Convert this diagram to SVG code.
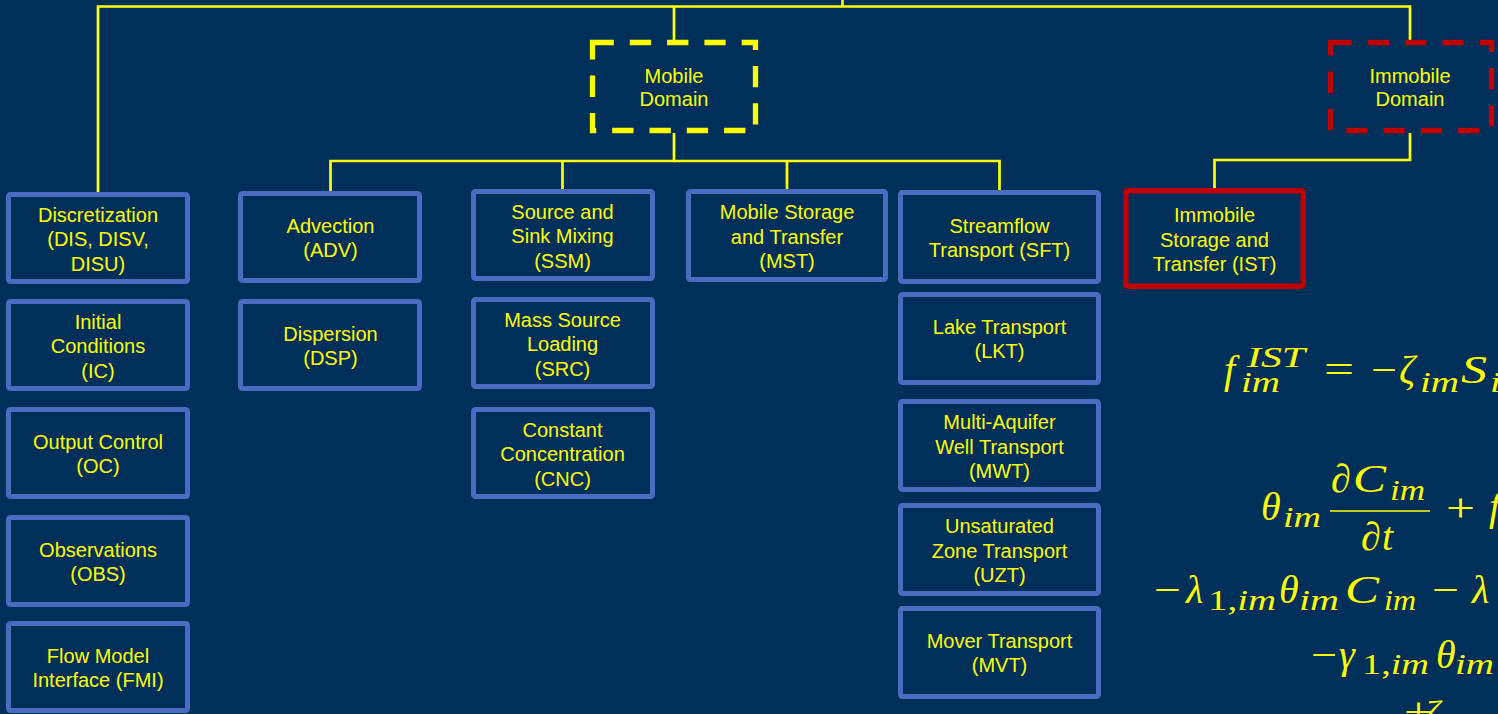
<svg xmlns="http://www.w3.org/2000/svg" width="1498" height="714" viewBox="0 0 1498 714">
  <style>
    .box { fill: none; stroke: #4A6CC0; stroke-width: 5; }
    .ist { fill: none; stroke: #C00000; stroke-width: 5.5; }
    .dom { fill: none; stroke-width: 5.3; stroke-dasharray: 21.3 16; }
    .lbl { font-family: "Liberation Sans", Arial, sans-serif; font-size: 20px; fill: #FFFF00; text-anchor: middle; }
    .wire { fill: none; stroke: #FFFF00; stroke-width: 2.7; }
    .m { font-family: "Liberation Serif", "Times New Roman", serif; font-style: italic; font-size: 40px; fill: #FFFF00; }
    .s { font-family: "Liberation Serif", "Times New Roman", serif; font-style: italic; font-size: 30px; fill: #FFFF00; }
    .up { font-style: normal; }
  </style>

  <rect x="0" y="0" width="1498" height="714" fill="#00305A"/>

  <!-- tree connectors -->
  <g id="connectors">
    <path class="wire" d="M842.5,0 V6.5"/>
    <path class="wire" d="M98,193 V6.5 H1410 V40"/>
    <path class="wire" d="M674,6.5 V40"/>
    <path class="wire" d="M674,133 V161 H330.5 V191"/>
    <path class="wire" d="M562.5,161 V189"/>
    <path class="wire" d="M674,161 H999.5 V190"/>
    <path class="wire" d="M787,161 V189"/>
    <path class="wire" d="M1410,133 V160 H1214.5 V188"/>
  </g>

  <!-- domains -->
  <g id="mobile-domain">
    <rect class="dom" x="592.5" y="42.5" width="163" height="88" stroke="#FFFF00"/>
    <text class="lbl" x="674" y="83">Mobile</text>
    <text class="lbl" x="674" y="106">Domain</text>
  </g>
  <g id="immobile-domain">
    <rect class="dom" x="1330.5" y="42.5" width="161" height="88" stroke="#C00000"/>
    <text class="lbl" x="1410" y="83">Immobile</text>
    <text class="lbl" x="1410" y="106">Domain</text>
  </g>

  <!-- column 1 -->
  <g id="dis">
    <rect class="box" x="8.5" y="194.5" width="179" height="87" rx="2"/>
    <text class="lbl" x="98" y="221.5">Discretization</text>
    <text class="lbl" x="98" y="246">(DIS, DISV,</text>
    <text class="lbl" x="98" y="270.5">DISU)</text>
  </g>
  <g id="ic">
    <rect class="box" x="8.5" y="301.5" width="179" height="87" rx="2"/>
    <text class="lbl" x="98" y="328.5">Initial</text>
    <text class="lbl" x="98" y="353">Conditions</text>
    <text class="lbl" x="98" y="377.5">(IC)</text>
  </g>
  <g id="oc">
    <rect class="box" x="8.5" y="409.5" width="179" height="87" rx="2"/>
    <text class="lbl" x="98" y="448.5">Output Control</text>
    <text class="lbl" x="98" y="472.5">(OC)</text>
  </g>
  <g id="obs">
    <rect class="box" x="8.5" y="517.5" width="179" height="87" rx="2"/>
    <text class="lbl" x="98" y="556.5">Observations</text>
    <text class="lbl" x="98" y="580.5">(OBS)</text>
  </g>
  <g id="fmi">
    <rect class="box" x="8.5" y="623.5" width="179" height="87" rx="2"/>
    <text class="lbl" x="98" y="662.5">Flow Model</text>
    <text class="lbl" x="98" y="686.5">Interface (FMI)</text>
  </g>

  <!-- column 2 -->
  <g id="adv">
    <rect class="box" x="240.5" y="193.5" width="179" height="87" rx="2"/>
    <text class="lbl" x="330.5" y="232.5">Advection</text>
    <text class="lbl" x="330.5" y="256.5">(ADV)</text>
  </g>
  <g id="dsp">
    <rect class="box" x="240.5" y="301.5" width="179" height="87" rx="2"/>
    <text class="lbl" x="330.5" y="340.5">Dispersion</text>
    <text class="lbl" x="330.5" y="364.5">(DSP)</text>
  </g>

  <!-- column 3 -->
  <g id="ssm">
    <rect class="box" x="473.5" y="191.5" width="179" height="87" rx="2"/>
    <text class="lbl" x="562.5" y="218.5">Source and</text>
    <text class="lbl" x="562.5" y="243">Sink Mixing</text>
    <text class="lbl" x="562.5" y="267.5">(SSM)</text>
  </g>
  <g id="src">
    <rect class="box" x="473.5" y="299.5" width="179" height="87" rx="2"/>
    <text class="lbl" x="562.5" y="326.5">Mass Source</text>
    <text class="lbl" x="562.5" y="351">Loading</text>
    <text class="lbl" x="562.5" y="375.5">(SRC)</text>
  </g>
  <g id="cnc">
    <rect class="box" x="473.5" y="409.5" width="179" height="87" rx="2"/>
    <text class="lbl" x="562.5" y="436.5">Constant</text>
    <text class="lbl" x="562.5" y="461">Concentration</text>
    <text class="lbl" x="562.5" y="485.5">(CNC)</text>
  </g>

  <!-- column 4 -->
  <g id="mst">
    <rect class="box" x="688.5" y="191.5" width="197" height="88" rx="2"/>
    <text class="lbl" x="787" y="219">Mobile Storage</text>
    <text class="lbl" x="787" y="243.5">and Transfer</text>
    <text class="lbl" x="787" y="268">(MST)</text>
  </g>

  <!-- column 5: advanced packages -->
  <g id="sft">
    <rect class="box" x="900.5" y="192.5" width="198" height="89" rx="2"/>
    <text class="lbl" x="999.5" y="232.5">Streamflow</text>
    <text class="lbl" x="999.5" y="256.5">Transport (SFT)</text>
  </g>
  <g id="lkt">
    <rect class="box" x="900.5" y="294.5" width="198" height="88" rx="2"/>
    <text class="lbl" x="999.5" y="334">Lake Transport</text>
    <text class="lbl" x="999.5" y="358">(LKT)</text>
  </g>
  <g id="mwt">
    <rect class="box" x="900.5" y="401.5" width="198" height="88" rx="2"/>
    <text class="lbl" x="999.5" y="429">Multi-Aquifer</text>
    <text class="lbl" x="999.5" y="453.5">Well Transport</text>
    <text class="lbl" x="999.5" y="478">(MWT)</text>
  </g>
  <g id="uzt">
    <rect class="box" x="900.5" y="505.5" width="198" height="88" rx="2"/>
    <text class="lbl" x="999.5" y="533">Unsaturated</text>
    <text class="lbl" x="999.5" y="557.5">Zone Transport</text>
    <text class="lbl" x="999.5" y="582">(UZT)</text>
  </g>
  <g id="mvt">
    <rect class="box" x="900.5" y="608.5" width="198" height="88" rx="2"/>
    <text class="lbl" x="999.5" y="648">Mover Transport</text>
    <text class="lbl" x="999.5" y="672">(MVT)</text>
  </g>

  <!-- immobile storage -->
  <g id="ist">
    <rect class="ist" x="1125.75" y="190.75" width="177.5" height="95.5" rx="2"/>
    <text class="lbl" x="1214.5" y="222">Immobile</text>
    <text class="lbl" x="1214.5" y="246.5">Storage and</text>
    <text class="lbl" x="1214.5" y="271">Transfer (IST)</text>
  </g>

  <!-- IST equations -->
  <g id="equations">
    <!-- f_im^IST = -zeta_im S_im ... -->
    <text class="m" x="1224" y="383">f</text>
    <text class="s" x="1247" y="367" textLength="58" lengthAdjust="spacingAndGlyphs">IST</text>
    <text class="s" x="1241" y="392" textLength="39" lengthAdjust="spacingAndGlyphs">im</text>
    <text class="m up" x="1324" y="383" textLength="30" lengthAdjust="spacingAndGlyphs">=</text>
    <text class="m up" x="1371" y="383" textLength="26" lengthAdjust="spacingAndGlyphs">−</text>
    <text class="m" x="1399" y="383">ζ</text>
    <text class="s" x="1420" y="392" textLength="39" lengthAdjust="spacingAndGlyphs">im</text>
    <text class="m" x="1461" y="383" textLength="26" lengthAdjust="spacingAndGlyphs">S</text>
    <text class="s" x="1490" y="392" textLength="39" lengthAdjust="spacingAndGlyphs">im</text>

    <!-- theta_im dC_im/dt + f ... -->
    <text class="m" x="1261" y="520">θ</text>
    <text class="s" x="1283" y="527" textLength="38" lengthAdjust="spacingAndGlyphs">im</text>
    <text class="m" x="1331" y="492">∂</text>
    <text class="m" x="1353" y="492" textLength="33" lengthAdjust="spacingAndGlyphs">C</text>
    <text class="s" x="1390" y="500" textLength="35" lengthAdjust="spacingAndGlyphs">im</text>
    <line x1="1330" y1="511" x2="1430" y2="511" stroke="#FFFF00" stroke-width="1.6"/>
    <text class="m" x="1361" y="550">∂</text>
    <text class="m" x="1382" y="550">t</text>
    <text class="m up" x="1446" y="521" textLength="29" lengthAdjust="spacingAndGlyphs">+</text>
    <text class="m" x="1489" y="520">f</text>

    <!-- -lambda_1,im theta_im C_im - lambda ... -->
    <text class="m up" x="1154" y="603" textLength="27" lengthAdjust="spacingAndGlyphs">−</text>
    <text class="m" x="1186" y="603">λ</text>
    <text class="s" x="1208" y="610" textLength="68" lengthAdjust="spacingAndGlyphs"><tspan class="up">1,</tspan>im</text>
    <text class="m" x="1279" y="603">θ</text>
    <text class="s" x="1299" y="610" textLength="40" lengthAdjust="spacingAndGlyphs">im</text>
    <text class="m" x="1345" y="603" textLength="34" lengthAdjust="spacingAndGlyphs">C</text>
    <text class="s" x="1384" y="610" textLength="32" lengthAdjust="spacingAndGlyphs">im</text>
    <text class="m up" x="1432" y="603" textLength="27" lengthAdjust="spacingAndGlyphs">−</text>
    <text class="m" x="1472" y="603">λ</text>

    <!-- -gamma_1,im theta_im ... -->
    <text class="m up" x="1311" y="668" textLength="26" lengthAdjust="spacingAndGlyphs">−</text>
    <text class="m" x="1339" y="668">γ</text>
    <text class="s" x="1362" y="674" textLength="67" lengthAdjust="spacingAndGlyphs"><tspan class="up">1,</tspan>im</text>
    <text class="m" x="1436" y="668">θ</text>
    <text class="s" x="1455" y="674" textLength="39" lengthAdjust="spacingAndGlyphs">im</text>

    <!-- +zeta ... -->
    <text class="m up" x="1404" y="725" textLength="29" lengthAdjust="spacingAndGlyphs">+</text>
    <text class="m" x="1424" y="728">ζ</text>
  </g>
</svg>
